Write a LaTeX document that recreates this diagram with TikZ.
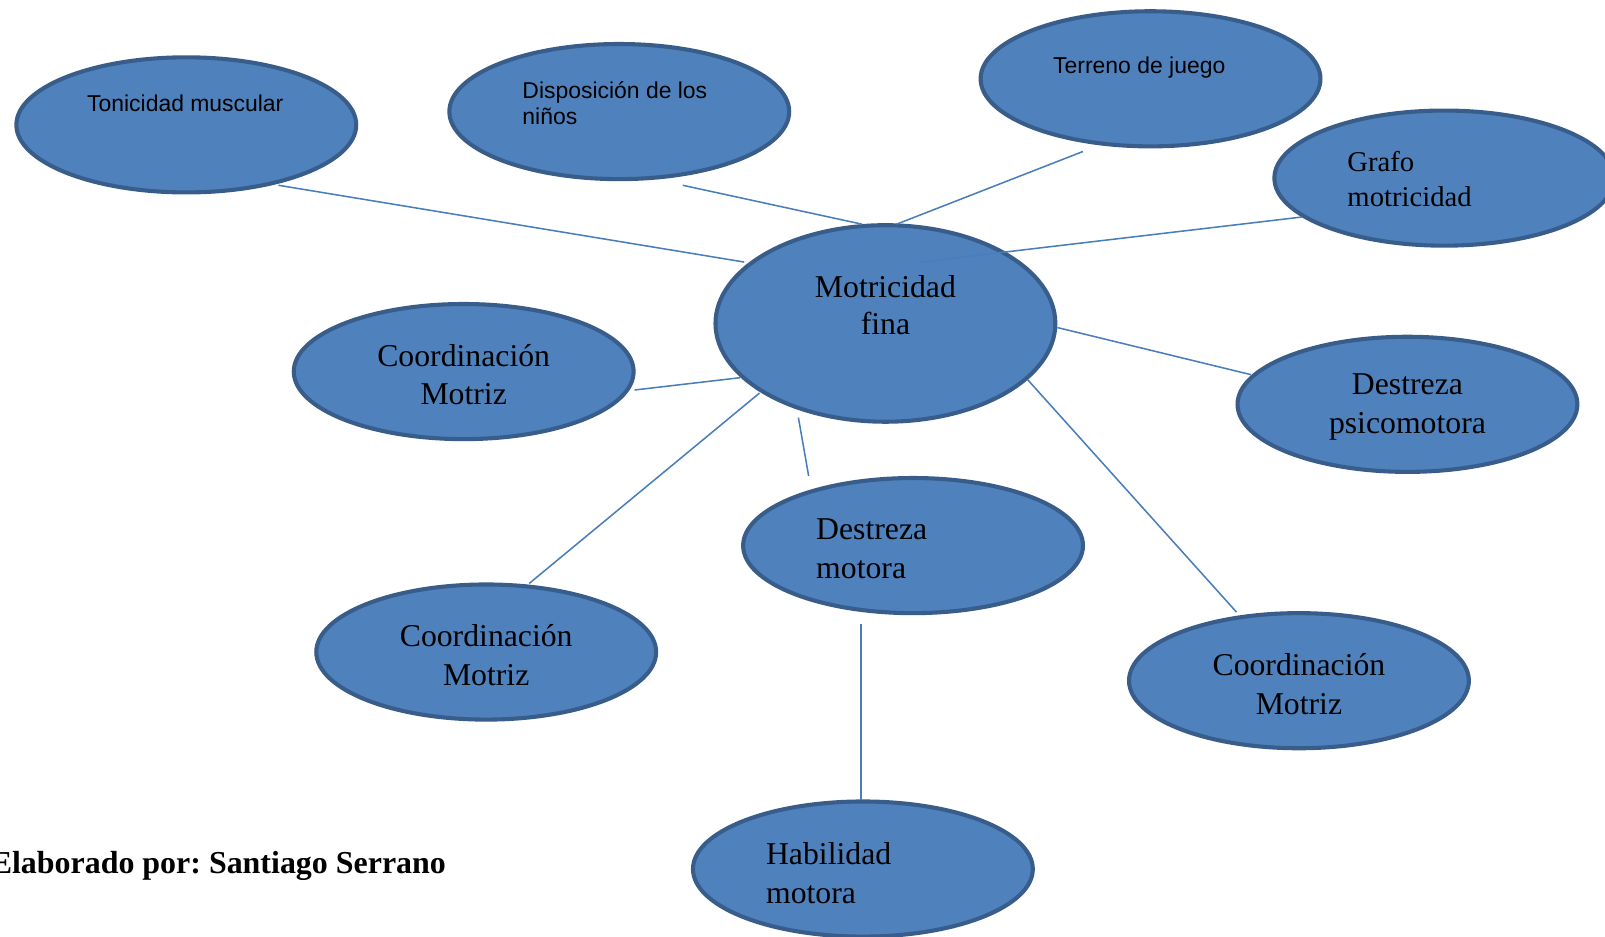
\documentclass[tikz,border=0pt]{standalone}
\usepackage{fontspec}
\setmainfont{Liberation Serif}
\newfontfamily\arialfont{Liberation Sans}
\usetikzlibrary{shapes.geometric}
\definecolor{ovalfill}{HTML}{4F81BD}
\definecolor{ovalline}{HTML}{385D8A}
\definecolor{linkcol}{HTML}{4A7EBB}
\tikzset{
  oval/.style={ellipse, draw=ovalline, fill=ovalfill, line width=2pt,
    minimum width=166pt, minimum height=66pt, inner sep=0pt, outer sep=0pt},
  bigoval/.style={oval, minimum height=96pt},
  serif/.style={font=\fontsize{15.5pt}{19pt}\selectfont, inner sep=0pt, text=black},
  sans/.style={font=\arialfont\fontsize{11.2pt}{12.7pt}\selectfont, inner sep=0pt, text=black},
  link/.style={draw=linkcol, line width=0.75pt}
}
\begin{document}
\begin{tikzpicture}[x=0.5pt,y=-0.5pt]
\useasboundingbox (0,0) rectangle (1568,915);
% ovals
\node[oval] (ton) at (182,122) {};
\node[oval] (dis) at (605,109) {};
\node[oval] (ter) at (1124,77) {};
\node[oval] (gra) at (1411,174) {};
\node[bigoval] (mf) at (865,316) {};
\node[oval] (cm1) at (453,363) {};
\node[oval] (dp) at (1375,395) {};
\node[oval] (dm) at (892,533) {};
\node[oval] (cm2) at (475,637) {};
\node[oval] (cm3) at (1269,665) {};
\node[oval] (hm) at (843,849) {};
% connector end points
\coordinate (a1) at (272,181); \coordinate (b1) at (727,256);
\coordinate (a2) at (667,181); \coordinate (b2) at (842,219);
\coordinate (a3) at (1058,148); \coordinate (b3) at (876,219);
\coordinate (a4) at (1272,212); \coordinate (b4) at (899,256);
\coordinate (a5) at (1222,366); \coordinate (b5) at (1033,320);
\coordinate (a6) at (620,381); \coordinate (b6) at (723,369);
\coordinate (a7) at (517,570); \coordinate (b7) at (742,384);
\coordinate (a8) at (790,465); \coordinate (b8) at (780,408);
\coordinate (a9) at (1208,598); \coordinate (b9) at (1004,371);
\coordinate (a10) at (841,782); \coordinate (b10) at (841,610);
% connectors
\draw[link] (a1) -- (b1);
\draw[link] (a2) -- (b2);
\draw[link] (a3) -- (b3);
\draw[link] (a4) -- (b4);
\draw[link] (a5) -- (b5);
\draw[link] (a6) -- (b6);
\draw[link] (a7) -- (b7);
\draw[link] (a8) -- (b8);
\draw[link] (a9) -- (b9);
\draw[link] (a10) -- (b10);
% labels
\node[sans] (tton) at (181,101) {Tonicidad muscular};
\node[sans, anchor=west, align=left] (tdis) at (510,101) {Disposición de los\\niños};
\node[sans] (tter) at (1113,66) {Terreno de juego};
\node[serif, font=\fontsize{14pt}{17.5pt}\selectfont, anchor=west, align=left] (tgra) at (1316,175) {Grafo\\motricidad};
\node[serif, font=\fontsize{15.5pt}{18pt}\selectfont, align=center] (tmf) at (865,298) {Motricidad\\fina};
\node[serif, align=center] (tcm1) at (453,366) {Coordinación\\Motriz};
\node[serif, align=center] (tdp) at (1375,398) {Destreza\\psicomotora};
\node[serif, anchor=west, align=left] (tdm) at (797,536) {Destreza\\motora};
\node[serif, align=center] (tcm2) at (475,640) {Coordinación\\Motriz};
\node[serif, align=center] (tcm3) at (1269,668) {Coordinación\\Motriz};
\node[serif, anchor=west, align=left] (thm) at (748,853) {Habilidad\\motora};
\node[font=\bfseries\fontsize{15.6pt}{19pt}\selectfont\frenchspacing, inner sep=0pt, anchor=base east] (elab) at (436,853) {Elaborado por: Santiago Serrano};
\end{tikzpicture}
\end{document}
